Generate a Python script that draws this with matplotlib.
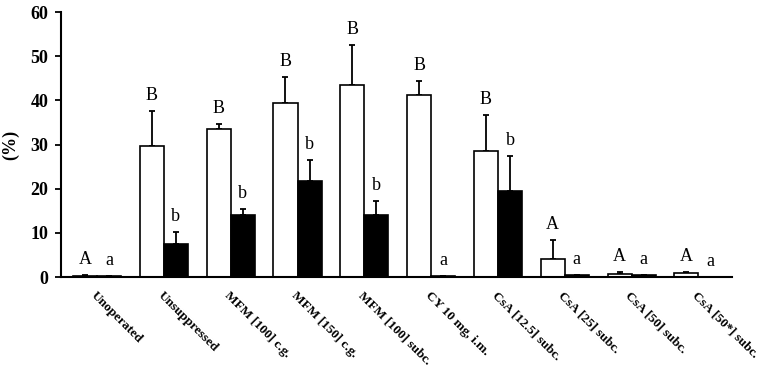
import numpy as np
import matplotlib
matplotlib.use("Agg")
import matplotlib.pyplot as plt

# --- data ---
groups = ["Unoperated", "Unsuppressed", "MFM [100] c.g.", "MFM [150] c.g.",
          "MFM [100] subc.", "CY 10 mg, i.m.", "CsA [12.5] subc.",
          "CsA [25] subc.", "CsA [50] subc.", "CsA [50*] subc."]
white_vals = [0.3, 29.7, 33.6, 39.5, 43.5, 41.3, 28.5, 4.2, 0.8, 0.9]
white_err = [0.2, 8.0, 1.1, 5.8, 9.0, 3.1, 8.2, 4.3, 0.3, 0.3]
white_letters = ["A", "B", "B", "B", "B", "B", "B", "A", "A", "A"]
black_vals = [0.2, 7.6, 14.1, 21.8, 14.0, 0.3, 19.5, 0.4, 0.4, 0.1]
black_err = [0.0, 2.7, 1.4, 4.8, 3.3, 0.0, 7.9, 0.0, 0.1, 0.0]
black_letters = ["a", "b", "b", "b", "b", "a", "b", "a", "a", "a"]

plt.rcParams['font.family'] = ['Liberation Serif', 'DejaVu Serif']

fig = plt.figure(figsize=(7.65, 3.68), dpi=100)
ax = fig.add_axes([0.0797, 0.247, 0.877, 0.72])

x = np.arange(len(groups))
w = 0.36

ax.bar(x - w/2, white_vals, w, color='white', edgecolor='black', linewidth=1.2, zorder=2)
ax.bar(x + w/2, black_vals, w, color='black', edgecolor='black', linewidth=1.2, zorder=2)

# upper error bars only
ax.errorbar(x - w/2, white_vals, yerr=[np.zeros(len(x)), white_err], fmt='none',
            ecolor='black', elinewidth=1.3, capsize=2, capthick=1.3, zorder=1)
ax.errorbar(x + w/2, black_vals, yerr=[np.zeros(len(x)), black_err], fmt='none',
            ecolor='black', elinewidth=1.3, capsize=2, capthick=1.3, zorder=1)

# significance letters
for i in range(len(x)):
    ax.annotate(white_letters[i], (x[i] - w/2, white_vals[i] + white_err[i]),
                xytext=(0, 5), textcoords='offset points', ha='center', va='bottom',
                fontsize=13)
    ax.annotate(black_letters[i], (x[i] + w/2, black_vals[i] + black_err[i]),
                xytext=(0, 5), textcoords='offset points', ha='center', va='bottom',
                fontsize=13)

ax.set_xlim(-0.54, 9.5)
ax.set_ylim(0, 60)
ax.set_yticks(np.arange(0, 61, 10))
ax.set_xticks(x)
ax.set_xticklabels(groups, rotation=-45, ha='left', va='top', rotation_mode='anchor',
                   fontsize=9.5, fontweight='bold')
for lbl in ax.get_yticklabels():
    lbl.set_fontweight('bold')
    lbl.set_fontsize(13)
ax.tick_params(axis='y', direction='out', length=4, width=1.3, pad=5)
ax.tick_params(axis='x', length=0, pad=9)
ax.set_ylabel("(%)", fontsize=13, fontweight='bold')
ax.yaxis.set_label_coords(-0.062, 0.5)

ax.spines['top'].set_visible(False)
ax.spines['right'].set_visible(False)
ax.spines['left'].set_linewidth(1.5)
ax.spines['bottom'].set_linewidth(1.5)

fig.savefig("out.png", dpi=100)
